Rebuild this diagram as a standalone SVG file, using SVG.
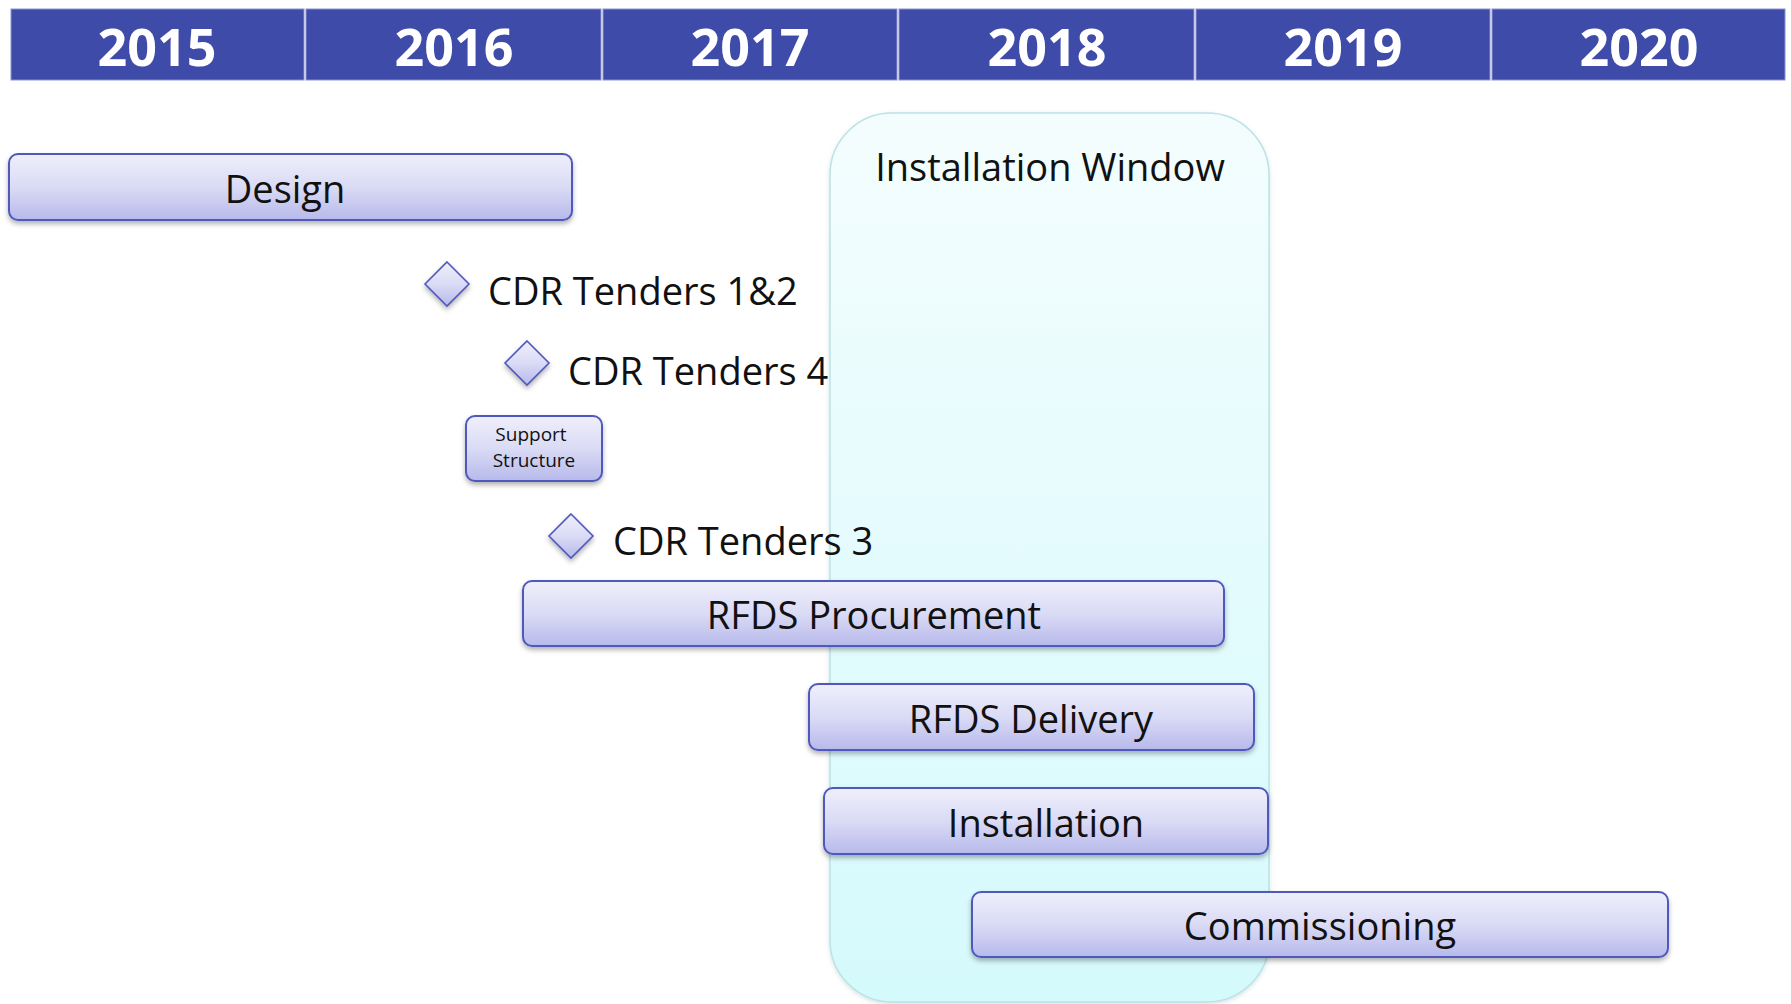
<svg xmlns="http://www.w3.org/2000/svg" width="1791" height="1004" viewBox="0 0 1791 1004">
<defs>
  <linearGradient id="barGrad" x1="0" y1="0" x2="0" y2="1">
    <stop offset="0" stop-color="#EFEFFB"/>
    <stop offset="0.5" stop-color="#DADBF5"/>
    <stop offset="1" stop-color="#B7B9EB"/>
  </linearGradient>
  <linearGradient id="winGrad" x1="0" y1="0" x2="0" y2="1">
    <stop offset="0" stop-color="#F4FDFE"/>
    <stop offset="1" stop-color="#D5FAFC"/>
  </linearGradient>
  <filter id="shadow" x="-10%" y="-20%" width="120%" height="160%">
    <feDropShadow dx="0" dy="3" stdDeviation="2.5" flood-color="#000" flood-opacity="0.3"/>
  </filter>
  <filter id="winShadow" x="-10%" y="-5%" width="120%" height="110%">
    <feDropShadow dx="0" dy="2" stdDeviation="2" flood-color="#7AA" flood-opacity="0.3"/>
  </filter>
</defs>
<style>
  .year { fill: #3F4BA8; stroke: #8C93D0; stroke-width: 1; }
  .yt { font-family: "Open Sans", "DejaVu Sans", sans-serif; font-weight: 700; font-size: 52px; fill: #FFFFFF; text-anchor: middle; }
  .bar { fill: url(#barGrad); stroke: #5058BC; stroke-width: 2; filter: url(#shadow); }
  .ms { fill: url(#barGrad); stroke: #5058BC; stroke-width: 1.6; filter: url(#shadow); }
  .lbl { font-family: "Open Sans", "DejaVu Sans", sans-serif; font-size: 38px; fill: #111; text-anchor: middle; }
  .lbl-l { font-family: "Open Sans", "DejaVu Sans", sans-serif; font-size: 38px; fill: #111; }
  .small { font-family: "Open Sans", "DejaVu Sans", sans-serif; font-size: 19px; fill: #111; text-anchor: middle; }
</style>
<rect width="1791" height="1004" fill="#FFFFFF"/>

<g id="header">
  <rect class="year" x="11" y="9" width="293" height="71"/>
  <rect class="year" x="306" y="9" width="295" height="71"/>
  <rect class="year" x="603" y="9" width="294" height="71"/>
  <rect class="year" x="899" y="9" width="295" height="71"/>
  <rect class="year" x="1196" y="9" width="294" height="71"/>
  <rect class="year" x="1492" y="9" width="293" height="71"/>
  <text class="yt" x="157" y="66">2015</text>
  <text class="yt" x="454" y="66">2016</text>
  <text class="yt" x="750" y="66">2017</text>
  <text class="yt" x="1047" y="66">2018</text>
  <text class="yt" x="1343" y="66">2019</text>
  <text class="yt" x="1639" y="66">2020</text>
</g>

<g id="installation-window">
  <rect x="830" y="113" width="439" height="889" rx="62" ry="62" fill="url(#winGrad)" stroke="#BCE2E6" stroke-width="1.5" filter="url(#winShadow)"/>
  <text class="lbl" x="1050" y="181">Installation Window</text>
</g>

<g id="design">
  <rect class="bar" x="9" y="154" width="563" height="66" rx="9"/>
  <text class="lbl" x="285" y="203">Design</text>
</g>

<g id="cdr-1-2">
  <polygon class="ms" points="447,262 469,284 447,306 425,284"/>
  <text class="lbl-l" x="488" y="305">CDR Tenders 1&amp;2</text>
</g>

<g id="cdr-4">
  <polygon class="ms" points="527,341 549,363 527,385 505,363"/>
  <text class="lbl-l" x="568" y="385">CDR Tenders 4</text>
</g>

<g id="support-structure">
  <rect class="bar" x="466" y="416" width="136" height="65" rx="9"/>
  <text class="small" x="531" y="441">Support</text>
  <text class="small" x="534" y="467">Structure</text>
</g>

<g id="cdr-3">
  <polygon class="ms" points="571,514 593,536 571,558 549,536"/>
  <text class="lbl-l" x="613" y="555">CDR Tenders 3</text>
</g>

<g id="rfds-procurement">
  <rect class="bar" x="523" y="581" width="701" height="65" rx="9"/>
  <text class="lbl" x="874" y="629">RFDS Procurement</text>
</g>

<g id="rfds-delivery">
  <rect class="bar" x="809" y="684" width="445" height="66" rx="9"/>
  <text class="lbl" x="1031" y="733">RFDS Delivery</text>
</g>

<g id="installation">
  <rect class="bar" x="824" y="788" width="444" height="66" rx="9"/>
  <text class="lbl" x="1046" y="837">Installation</text>
</g>

<g id="commissioning">
  <rect class="bar" x="972" y="892" width="696" height="65" rx="9"/>
  <text class="lbl" x="1320" y="940">Commissioning</text>
</g>

<g id="connectors"></g>
</svg>
